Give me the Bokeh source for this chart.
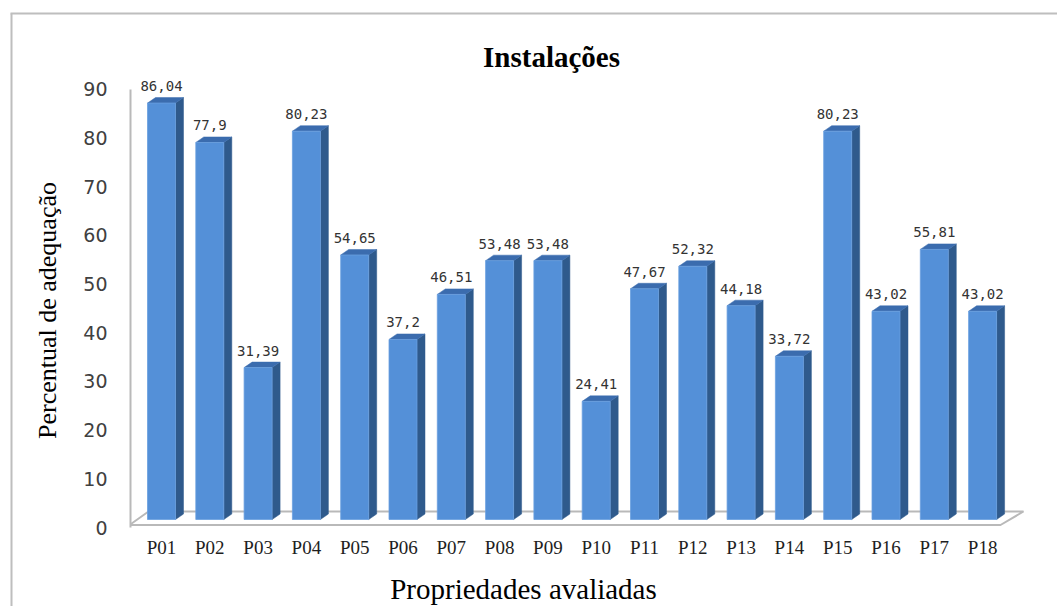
import math

from bokeh.core.properties import value
from bokeh.embed import file_html
from bokeh.models import ColumnDataSource, FixedTicker, LinearAxis, Range1d
from bokeh.plotting import figure
from bokeh.resources import INLINE

# ---------------------------------------------------------------- data
properties = ["P01", "P02", "P03", "P04", "P05", "P06", "P07", "P08", "P09",
              "P10", "P11", "P12", "P13", "P14", "P15", "P16", "P17", "P18"]
adequacy = [86.04, 77.9, 31.39, 80.23, 54.65, 37.2, 46.51, 53.48, 53.48,
            24.41, 47.67, 52.32, 44.18, 33.72, 80.23, 43.02, 55.81, 43.02]
y_ticks = [0, 10, 20, 30, 40, 50, 60, 70, 80, 90]

title_text = "Instalações"
x_title = "Propriedades avaliadas"
y_title = "Percentual de adequação"

# ---------------------------------------------------------------- layout
W, H = 1057, 606
FRAME_L, FRAME_B = 130, 530          # canvas px of the plot frame's left / bottom edge
X0_PX, STEP_PX = 161, 48.3           # centre of first bar, spacing between bars
BASE_PX, UNIT_PX = 519, 4.84         # bar baseline and px per percentage point
WALL_BASE_PX, WALL_UNIT_PX = 527, 4.867  # scale of the (back-wall) value axis

BAR_W = 28 / STEP_PX                 # front face width (x units)
DEPTH_X = 8 / STEP_PX                # 3-D depth offset
DEPTH_Y = 5.5 / UNIT_PX

FRONT = "#5490d8"
SIDE = "#2f5a8c"
TOP = "#3b6cae"
GREY = "#b9b9b9"


def sx(px):
    """canvas x pixel -> x data coordinate"""
    return 1 + (px - X0_PX) / STEP_PX


def sy(py):
    """canvas y pixel -> y data coordinate"""
    return (BASE_PX - py) / UNIT_PX


x_range = Range1d(sx(FRAME_L), sx(W))
y_range = Range1d(sy(FRAME_B), sy(0))

p = figure(width=W, height=H, x_range=x_range, y_range=y_range,
           x_axis_location=None, y_axis_location=None,
           min_border_left=FRAME_L, min_border_right=0, min_border_top=0,
           min_border_bottom=H - FRAME_B,
           toolbar_location=None, output_backend="svg",
           background_fill_color="white", border_fill_color="white")
p.outline_line_color = None
p.grid.visible = False

# value axis, drawn on the back wall scale
p.extra_y_ranges = {"wall": Range1d(-(FRAME_B - WALL_BASE_PX) / WALL_UNIT_PX,
                                    WALL_BASE_PX / WALL_UNIT_PX)}
yaxis = LinearAxis(y_range_name="wall", ticker=FixedTicker(ticks=y_ticks),
                   bounds=(y_ticks[0], y_ticks[-1]),
                   major_tick_out=0, major_tick_in=0,
                   minor_tick_out=0, minor_tick_in=0,
                   axis_line_color=GREY, axis_line_width=2,
                   major_label_standoff=23,
                   major_label_text_font="DejaVu Sans",
                   major_label_text_font_size="19px",
                   major_label_text_color="#404040")
p.add_layout(yaxis, "left")

positions = [i + 1 for i in range(len(properties))]
xaxis = LinearAxis(ticker=FixedTicker(ticks=positions),
                   major_label_overrides={pos: name for pos, name in zip(positions, properties)},
                   axis_line_color=None,
                   major_tick_out=0, major_tick_in=0,
                   minor_tick_out=0, minor_tick_in=0,
                   major_label_standoff=6,
                   major_label_text_font="Liberation Serif",
                   major_label_text_font_size="19px",
                   major_label_text_color="#1e1e1e")
p.add_layout(xaxis, "below")

# ---------------------------------------------------------------- floor
floor_px = [(129, 524.5), (1000, 524.5), (1023, 511), (148, 511)]
p.patch([sx(a) for a, _ in floor_px], [sy(b) for _, b in floor_px],
        fill_color="white", line_color=GREY, line_width=2)

# ---------------------------------------------------------------- 3-D bars
side_xs, side_ys, top_xs, top_ys = [], [], [], []
for x, v in zip(positions, adequacy):
    r = x + BAR_W / 2
    l = x - BAR_W / 2
    side_xs.append([r, r + DEPTH_X, r + DEPTH_X, r])
    side_ys.append([0, DEPTH_Y, v + DEPTH_Y, v])
    top_xs.append([l, l + DEPTH_X, r + DEPTH_X, r])
    top_ys.append([v, v + DEPTH_Y, v + DEPTH_Y, v])

labels = [f"{v:g}".replace(".", ",") for v in adequacy]
src = ColumnDataSource(dict(x=positions, top=adequacy, label=labels,
                            side_xs=side_xs, side_ys=side_ys,
                            top_xs=top_xs, top_ys=top_ys))

p.patches("side_xs", "side_ys", source=src, fill_color=SIDE, line_color=SIDE, line_width=0.5)
p.patches("top_xs", "top_ys", source=src, fill_color=TOP, line_color=TOP, line_width=0.5)
p.vbar(x="x", top="top", bottom=0, width=BAR_W, source=src,
       fill_color=FRONT, line_color="#6a9fe0", line_width=0.8)

p.text(x="x", y="top", text="label", source=src, y_offset=-17,
       text_align="center", text_baseline="middle",
       text_font=value("DejaVu Sans Mono"),
       text_font_size="14px", text_color="#333333")

# ---------------------------------------------------------------- titles
p.text(x=[sx(551)], y=[sy(56)], text=[title_text],
       text_align="center", text_baseline="middle",
       text_font=value("Liberation Serif"), text_font_style="bold",
       text_font_size="29px", text_color="#000000", level="overlay")
p.text(x=[sx(47)], y=[sy(310)], text=[y_title], angle=math.pi / 2,
       text_align="center", text_baseline="middle",
       text_font=value("Liberation Serif"),
       text_font_size="26px", text_color="#000000", level="overlay")
p.text(x=[sx(523)], y=[sy(588)], text=[x_title],
       text_align="center", text_baseline="middle",
       text_font=value("Liberation Serif"),
       text_font_size="29px", text_color="#000000", level="overlay")

# chart-area border (top and left edges)
p.line([sx(10), sx(W + 5)], [sy(13), sy(13)], line_color="#bebebe", line_width=2, level="overlay")
p.line([sx(11), sx(11)], [sy(13), sy(H + 5)], line_color="#bebebe", line_width=2, level="overlay")

open("out.html", "w").write(file_html(p, INLINE))
